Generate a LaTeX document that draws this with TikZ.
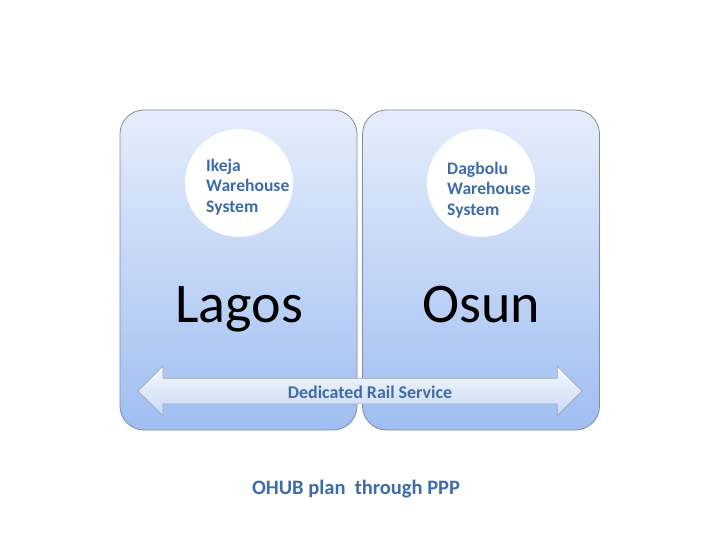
\documentclass[tikz,border=0pt]{standalone}
\usepackage{fontspec}
\setmainfont{Carlito}
\usepackage{tikz}
\usepackage{xcolor}
\usetikzlibrary{positioning,calc,shapes.arrows}
\definecolor{boxtop}{RGB}{229,237,251}
\definecolor{boxbot}{RGB}{160,190,242}
\definecolor{boxline}{RGB}{128,140,158}
\definecolor{txtblue}{RGB}{62,108,170}
\definecolor{arrtop}{RGB}{246,249,254}
\definecolor{arrbot}{RGB}{200,216,244}
\tikzset{
  region/.style={rectangle,rounded corners=24pt,draw=boxline,line width=0.8pt,
                 top color=boxtop,bottom color=boxbot,
                 minimum width=237pt,minimum height=320pt},
  depot/.style={circle,fill=white,minimum size=108pt,inner sep=0pt},
  depottxt/.style={font=\bfseries\fontsize{17.6}{20.5}\selectfont,text=txtblue,
                   align=left,inner sep=0pt,anchor=west},
  state/.style={font=\fontsize{56}{60}\selectfont,anchor=base,inner sep=0pt},
  rail/.style={double arrow,draw=boxline!80,line width=0.7pt,
               top color=arrtop,bottom color=arrbot,
               minimum height=444pt,inner xsep=0pt,inner ysep=12.5pt,
               double arrow head extend=12pt}
}

\begin{document}
\begin{tikzpicture}[x=1pt,y=-1pt]
\useasboundingbox[fill=white] (0,0) rectangle (720,540);

% the two states
\node[region] (lagosbox) at (238.5,270) {};
\node[region] (osunbox) at (481,270) {};

% warehouse systems
\node[depot] (ikeja) at (239,183) {};
\node[depot] (dagbolu) at (481,183) {};
\node[depottxt] (ikejatxt) at (206,187) {Ikeja\\Warehouse\\System};
\node[depottxt] (dagbolutxt) at (447,190) {Dagbolu\\Warehouse\\System};

\node[state] (lagos) at (239,322) {Lagos};
\node[state] (osun) at (481,322) {Osun};

% rail link across both
\node[rail] (railarrow) at (360,391) {};
\node[font=\bfseries\fontsize{17.9}{20}\selectfont,text=txtblue,inner sep=0pt]
     (railtxt) at (370,392) {Dedicated Rail Service};

\node[font=\bfseries\fontsize{20.5}{24}\selectfont,text=txtblue,inner sep=0pt]
     (plan) at (356,489) {OHUB plan~ through PPP};
\end{tikzpicture}
\end{document}
